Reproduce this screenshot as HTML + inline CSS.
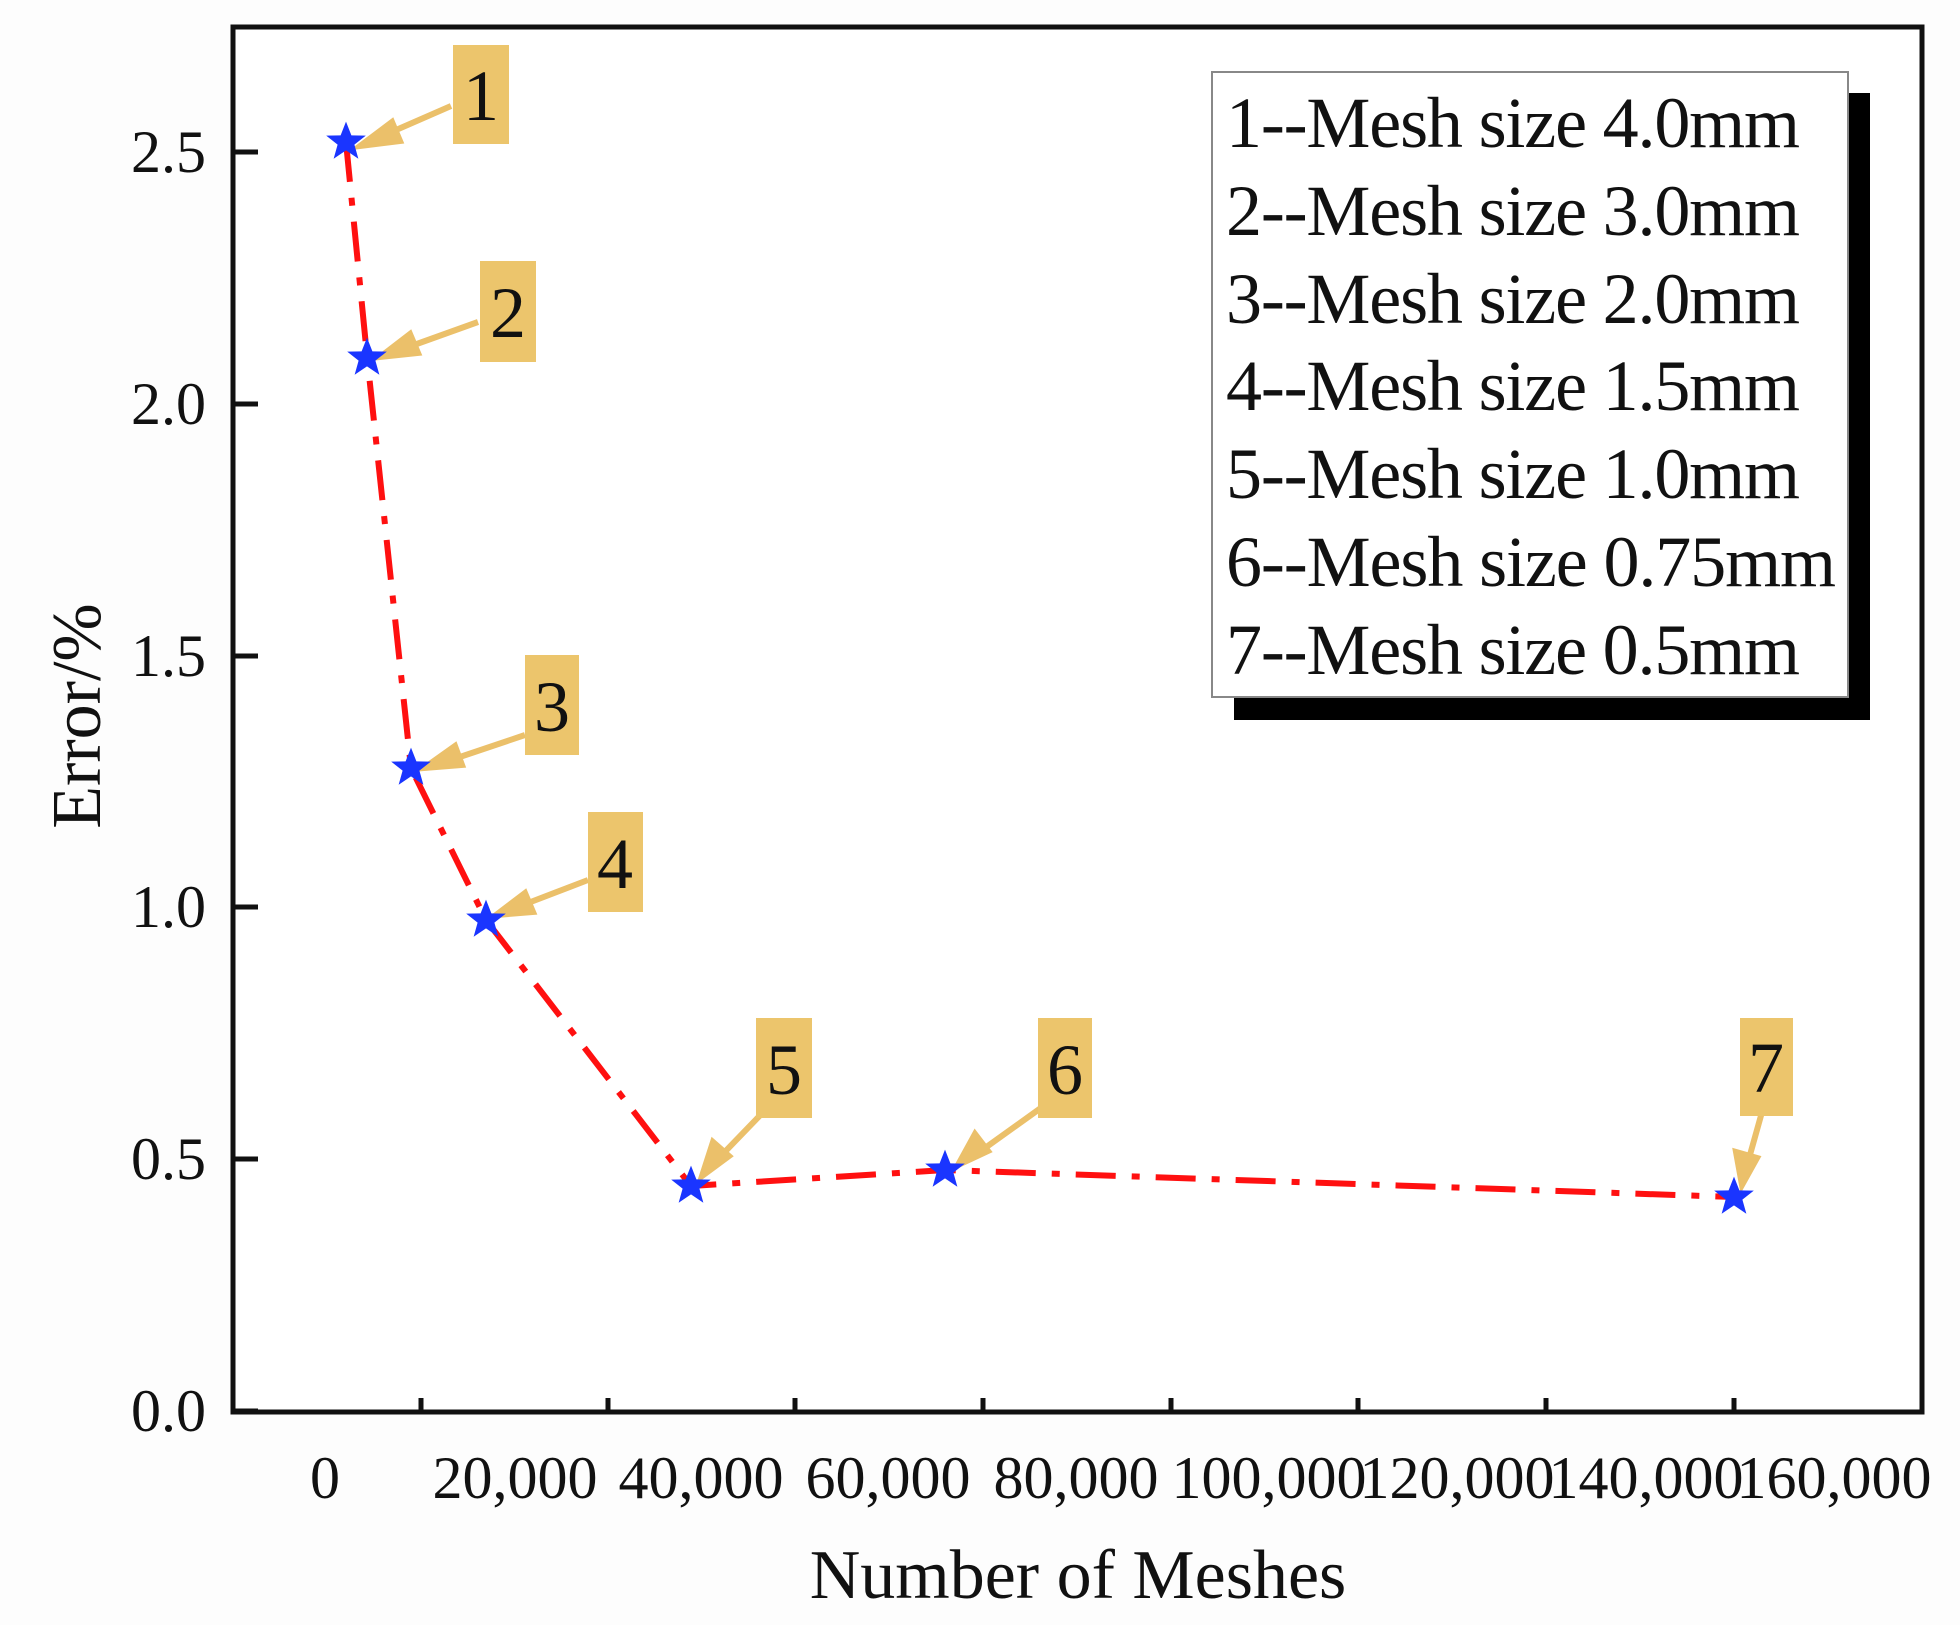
<!DOCTYPE html>
<html><head><meta charset="utf-8"><style>
html,body{margin:0;padding:0;background:#fff}
svg{display:block}
text{font-family:"Liberation Serif",serif;fill:#111}
</style></head><body>
<svg width="1960" height="1625" viewBox="0 0 1960 1625" xmlns="http://www.w3.org/2000/svg">
<defs>
<polygon id="st" transform="scale(1.2)" points="0,-17 4.5,-5.5 16.5,-5.3 7,2.2 10.3,14 0,7 -10.3,14 -7,2.2 -16.5,-5.3 -4.5,-5.5" fill="#1a35ff"/>
</defs>
<rect width="1960" height="1625" fill="#fdfdfd"/>
<rect x="233" y="27" width="1689" height="1385" fill="#fff" stroke="#111" stroke-width="5"/>
<g stroke="#111" stroke-width="5">
<line x1="233" y1="1411" x2="258" y2="1411"/>
<line x1="233" y1="1159" x2="258" y2="1159"/>
<line x1="233" y1="907" x2="258" y2="907"/>
<line x1="233" y1="656" x2="258" y2="656"/>
<line x1="233" y1="404" x2="258" y2="404"/>
<line x1="233" y1="152" x2="258" y2="152"/>
<line x1="421" y1="1411" x2="421" y2="1398"/>
<line x1="608" y1="1411" x2="608" y2="1398"/>
<line x1="795" y1="1411" x2="795" y2="1398"/>
<line x1="983" y1="1411" x2="983" y2="1398"/>
<line x1="1171" y1="1411" x2="1171" y2="1398"/>
<line x1="1358" y1="1411" x2="1358" y2="1398"/>
<line x1="1546" y1="1411" x2="1546" y2="1398"/>
<line x1="1734" y1="1411" x2="1734" y2="1398"/>
</g>
<g font-size="60" text-anchor="end">
<text x="206" y="1431">0.0</text>
<text x="206" y="1179">0.5</text>
<text x="206" y="927">1.0</text>
<text x="206" y="676">1.5</text>
<text x="206" y="424">2.0</text>
<text x="206" y="172">2.5</text>
</g>
<g font-size="60" text-anchor="middle">
<text x="325" y="1498">0</text>
<text x="515" y="1498">20,000</text>
<text x="701" y="1498">40,000</text>
<text x="888" y="1498">60,000</text>
<text x="1076" y="1498">80,000</text>
<text x="1269" y="1498">100,000</text>
<text x="1457" y="1498">120,000</text>
<text x="1646" y="1498">140,000</text>
<text x="1834" y="1498">160,000</text>
</g>
<text x="1078" y="1598" font-size="70" text-anchor="middle">Number of Meshes</text>
<text transform="translate(100,716) rotate(-90)" font-size="70" text-anchor="middle">Error/%</text>
<polyline points="346,142 367,356 411,768 486,920 691,1186 945,1170 1734,1197" fill="none" stroke="#ff1010" stroke-width="6" stroke-dasharray="40,16,8,16"/>
<g stroke="#ebc06a" stroke-width="6" fill="#ebc06a">
<line x1="451" y1="106" x2="380" y2="137"/><polygon points="360,146 392,122 400,141"/>
<line x1="478" y1="322" x2="400" y2="350"/><polygon points="380,357 410,334 418,353"/>
<line x1="525" y1="735" x2="445" y2="762"/><polygon points="424,768 455,746 462,765"/>
<line x1="588" y1="880" x2="515" y2="908"/><polygon points="496,915 525,893 533,912"/>
<line x1="770" y1="1105" x2="717" y2="1160"/><polygon points="702,1176 713,1142 729,1156"/>
<line x1="1045" y1="1105" x2="978" y2="1153"/><polygon points="958,1165 975,1134 988,1151"/>
<line x1="1762" y1="1112" x2="1748" y2="1162"/><polygon points="1742,1185 1736,1152 1757,1158"/>
</g>
<g fill="#ecc56c">
<rect x="453" y="45" width="56" height="99"/>
<rect x="480" y="261" width="56" height="101"/>
<rect x="525" y="655" width="54" height="100"/>
<rect x="588" y="812" width="55" height="100"/>
<rect x="756" y="1018" width="56" height="100"/>
<rect x="1038" y="1018" width="54" height="100"/>
<rect x="1740" y="1018" width="53" height="98"/>
</g>
<g font-size="72" text-anchor="middle">
<text x="481" y="120">1</text>
<text x="508" y="337">2</text>
<text x="552" y="731">3</text>
<text x="615" y="888">4</text>
<text x="784" y="1094">5</text>
<text x="1065" y="1094">6</text>
<text x="1766" y="1092">7</text>
</g>
<use href="#st" x="346" y="142"/>
<use href="#st" x="367" y="358"/>
<use href="#st" x="411" y="768"/>
<use href="#st" x="486" y="920"/>
<use href="#st" x="691" y="1186"/>
<use href="#st" x="945" y="1170"/>
<use href="#st" x="1734" y="1197"/>
<rect x="1234" y="93" width="636" height="627" fill="#000"/>
<rect x="1212" y="72" width="636" height="625" fill="#fff" stroke="#888" stroke-width="2"/>
<g font-size="72">
<text x="1226" y="147" textLength="574">1--Mesh size 4.0mm</text>
<text x="1226" y="235" textLength="574">2--Mesh size 3.0mm</text>
<text x="1226" y="323" textLength="574">3--Mesh size 2.0mm</text>
<text x="1226" y="410" textLength="574">4--Mesh size 1.5mm</text>
<text x="1226" y="498" textLength="574">5--Mesh size 1.0mm</text>
<text x="1226" y="586" textLength="610">6--Mesh size 0.75mm</text>
<text x="1226" y="674" textLength="574">7--Mesh size 0.5mm</text>
</g>
</svg>
</body></html>
